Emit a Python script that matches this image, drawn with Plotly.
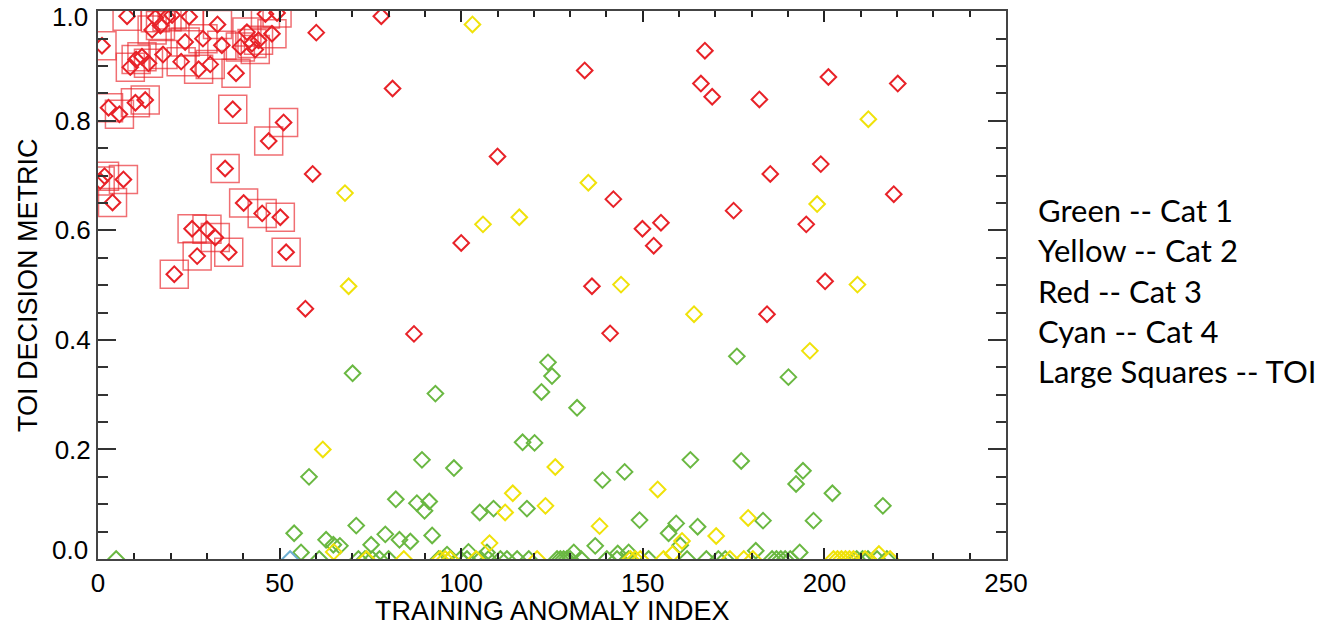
import plotly.graph_objects as go

# ---------------- data ----------------
green_x = [70.1, 92.9, 123.9, 125.0, 122.1, 131.9, 116.9, 120.2, 145.0, 138.9, 89.2, 98.0, 58.1, 82.0,
           87.8, 91.2, 89.9, 105.1, 108.9, 118.1, 149.1, 71.1, 54.0, 79.1, 62.8, 64.8, 66.6, 83.0, 86.0,
           75.2, 92.0, 136.9, 55.9, 102.0, 107.1, 131.0, 143.1, 146.1, 96.1, 159.2, 157.1, 165.1, 160.3,
           175.9, 190.1, 163.1, 177.1, 194.1, 192.2, 202.2, 216.1, 183.1, 197.0, 181.1, 193.2,
           5.0, 60.9, 71.7, 73.5, 75.5, 77.5, 80.0, 93.8, 97.0, 99.8, 101.6, 105.3, 107.5, 110.8, 112.6,
           115.4, 118.6, 126.4, 127.3, 128.2, 129.1, 130.0, 133.0, 140.1, 142.9, 146.1, 151.6, 162.2,
           167.5, 170.8, 172.7, 185.6, 186.8, 188.0, 189.2, 190.6, 208.9, 210.5, 212.0, 214.5, 217.2]
green_y = [0.339, 0.302, 0.359, 0.334, 0.305, 0.276, 0.213, 0.212, 0.159, 0.144, 0.181, 0.166, 0.150, 0.109,
           0.102, 0.105, 0.088, 0.085, 0.092, 0.092, 0.071, 0.061, 0.047, 0.045, 0.035, 0.026, 0.024, 0.035, 0.032,
           0.026, 0.043, 0.024, 0.012, 0.013, 0.012, 0.012, 0.010, 0.012, 0.008, 0.065, 0.047, 0.059, 0.025,
           0.370, 0.332, 0.181, 0.179, 0.161, 0.137, 0.120, 0.097, 0.070, 0.070, 0.015, 0.012,
           0.0, 0.0, 0.0, 0.0, 0.0, 0.0, 0.0, 0.0, 0.0, 0.0, 0.0, 0.0, 0.0, 0.0, 0.0,
           0.0, 0.0, 0.0, 0.0, 0.0, 0.0, 0.0, 0.0, 0.0, 0.0, 0.0, 0.0, 0.0,
           0.0, 0.0, 0.0, 0.0, 0.0, 0.0, 0.0, 0.0, 0.0, 0.0, 0.0, 0.0, 0.0]

yellow_x = [103.1, 68.0, 69.0, 106.0, 116.0, 135.0, 144.0, 212.1, 198.0, 209.1, 164.1, 196.0, 61.9, 125.9,
            114.2, 112.1, 123.2, 138.1, 107.8, 64.9, 154.1, 179.0, 170.2, 160.8, 158.2, 215.0,
            73.9, 84.2, 94.2, 95.6, 97.0, 104.1, 120.9, 146.6, 147.9, 149.3, 155.7, 174.0, 177.8, 180.3,
            202.5, 203.6, 204.7, 205.8, 206.9, 208.0, 211.2, 218.1]
yellow_y = [0.976, 0.668, 0.498, 0.611, 0.624, 0.687, 0.501, 0.803, 0.648, 0.501, 0.447, 0.380, 0.200, 0.168,
            0.120, 0.085, 0.097, 0.060, 0.029, 0.013, 0.127, 0.075, 0.042, 0.033, 0.009, 0.009,
            0.0, 0.0, 0.0, 0.0, 0.0, 0.0, 0.0, 0.0, 0.0, 0.0, 0.0, 0.0, 0.0, 0.0,
            0.0, 0.0, 0.0, 0.0, 0.0, 0.0, 0.0, 0.0]

red_x = [78.0, 60.1, 81.1, 59.1, 57.1, 87.0, 110.0, 100.0, 134.0, 141.9, 136.0, 141.0, 167.1, 166.0, 169.1,
         182.1, 201.1, 220.2, 185.1, 199.0, 219.1, 175.0, 195.0, 149.9, 155.0, 153.0, 200.2, 184.2]
red_y = [0.991, 0.961, 0.859, 0.703, 0.457, 0.411, 0.735, 0.577, 0.892, 0.657, 0.498, 0.412, 0.928, 0.868, 0.844,
         0.839, 0.880, 0.868, 0.703, 0.721, 0.666, 0.636, 0.611, 0.603, 0.614, 0.572, 0.507, 0.447]

cyan_x = [52.9]
cyan_y = [0.0]

toi_x = [1.1, 8.0, 8.9, 10.5, 12.1, 13.9, 2.9, 5.9, 10.3, 13.0, 1.8, 0.6, 7.0, 4.0, 17.9, 22.9, 24.0,
         15.8, 17.2, 19.0, 20.4, 14.9, 25.1, 28.9, 27.7, 30.9, 32.9, 34.1, 38.0, 39.2, 41.0, 42.4,
         43.3, 44.2, 47.9, 46.1, 49.3, 37.1, 51.1, 47.0, 35.0, 40.1, 45.2, 50.2, 25.9, 30.0, 32.3,
         27.3, 36.0, 51.8, 21.0]
toi_y = [0.937, 0.991, 0.898, 0.912, 0.917, 0.905, 0.824, 0.812, 0.833, 0.838, 0.699, 0.690, 0.693, 0.651,
         0.921, 0.908, 0.944, 0.988, 0.974, 0.990, 0.993, 0.966, 0.990, 0.950, 0.894, 0.903, 0.976,
         0.938, 0.887, 0.935, 0.962, 0.941, 0.930, 0.947, 0.959, 0.995, 0.997, 0.821, 0.797, 0.763,
         0.713, 0.650, 0.631, 0.624, 0.603, 0.602, 0.587, 0.553, 0.560, 0.560, 0.520]

x_ticks = [0, 50, 100, 150, 200, 250]
y_ticks = [0.0, 0.2, 0.4, 0.6, 0.8, 1.0]
y_ticktext = ["", "0.2", "0.4", "0.6", "0.8", ""]   # end labels are placed inward, as in the original
y_end_labels = ["0.0", "1.0"]

x_title = "TRAINING ANOMALY INDEX"
y_title = "TOI DECISION METRIC"
legend_lines = ["Green -- Cat 1", "Yellow -- Cat 2", "Red -- Cat 3", "Cyan -- Cat 4", "Large Squares -- TOI"]

# ---------------- styles ----------------
GREEN = "rgb(106,184,66)"
YELLOW = "rgb(240,226,10)"
RED = "rgb(232,34,40)"
CYAN = "rgb(110,175,210)"
SQUARE = "rgba(232,34,40,0.65)"

fig = go.Figure()

def diamonds(x, y, color):
    fig.add_trace(go.Scatter(x=x, y=y, mode="markers", cliponaxis=True, showlegend=False,
                             marker=dict(symbol="diamond-open", size=12, color=color,
                                         line=dict(color=color, width=2))))

diamonds(green_x, green_y, GREEN)
diamonds(yellow_x, yellow_y, YELLOW)
diamonds(red_x, red_y, RED)
diamonds(toi_x, toi_y, RED)
diamonds(cyan_x, cyan_y, CYAN)

fig.add_trace(go.Scatter(x=toi_x, y=toi_y, mode="markers", cliponaxis=True, showlegend=False,
                         marker=dict(symbol="square-open", size=28, color=SQUARE,
                                     line=dict(color=SQUARE, width=1.5))))

tickfont = dict(family="Liberation Sans, Arial, sans-serif", size=26, color="black")
titlefont = dict(family="Liberation Sans, Arial, sans-serif", size=27, color="black")

fig.update_xaxes(range=[0, 250], tickvals=x_ticks, ticks="inside", ticklen=11,
                 tickwidth=1.5, tickcolor="#222", showline=True, linecolor="#444", linewidth=2,
                 mirror="ticks", showgrid=False, zeroline=False, tickfont=tickfont, automargin=False,
                 ticklabeloverflow="allow",
                 minor=dict(dtick=10, tick0=0, ticks="inside", ticklen=6, tickwidth=1.5, tickcolor="#222",
                            showgrid=False))
fig.update_yaxes(range=[0, 1.0005], tickvals=y_ticks, ticktext=y_ticktext, ticks="inside",
                 ticklen=18, tickwidth=1.5, tickcolor="#333", showline=True, linecolor="#444", linewidth=2,
                 mirror="ticks", showgrid=False, zeroline=False, tickfont=tickfont, automargin=False,
                 ticklabeloverflow="allow",
                 minor=dict(dtick=0.05, tick0=0, ticks="inside", ticklen=10, tickwidth=1.5, tickcolor="#333",
                            showgrid=False))

# inward-shifted end labels of the y axis
for lab, yp in zip(y_end_labels, [0.0164, 0.989]):
    fig.add_annotation(x=-0.0088, y=yp, xref="paper", yref="paper", xanchor="right", yanchor="middle",
                       showarrow=False, text=lab, font=tickfont)

fig.add_annotation(x=0.5, y=-0.0949, xref="paper", yref="paper", xanchor="center", yanchor="middle",
                   showarrow=False, text=x_title, font=titlefont)
fig.add_annotation(x=-0.0771, y=0.5, xref="paper", yref="paper", xanchor="center", yanchor="middle",
                   showarrow=False, text=y_title, font=titlefont, textangle=-90)

fig.add_annotation(x=1.033, y=0.49, xref="paper", yref="paper", xanchor="left", yanchor="middle",
                   align="left", showarrow=False, text="<br>".join(legend_lines),
                   font=dict(family="Lato, Noto Sans, sans-serif", size=31, color="black"))

fig.update_layout(width=1337, height=629, margin=dict(l=98, r=331, t=11, b=70),
                  plot_bgcolor="white", paper_bgcolor="white")

fig.write_html("out.html", config={"displayModeBar": False},
               post_script="document.body.style.margin='0';document.body.style.overflow='hidden';")
